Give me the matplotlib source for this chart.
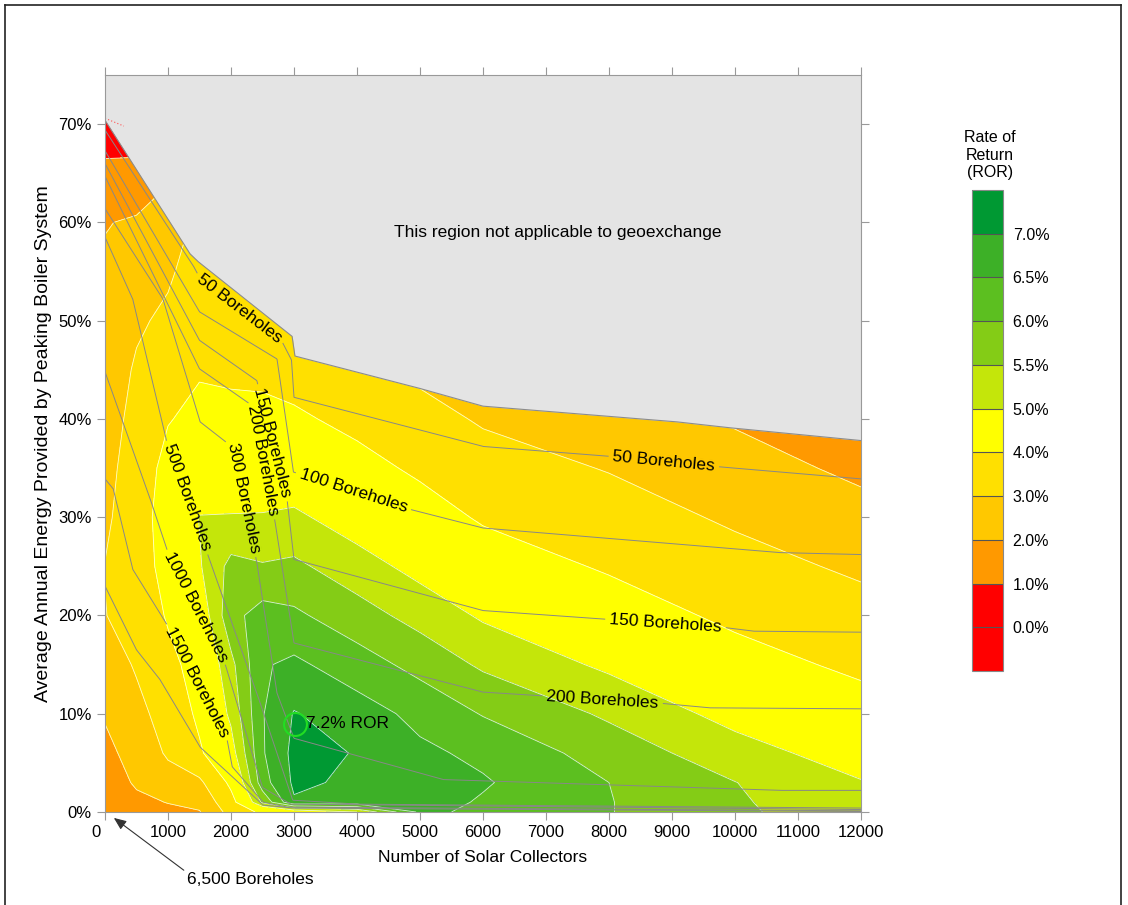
import numpy as np
import matplotlib
matplotlib.use("Agg")
import matplotlib.pyplot as plt
from matplotlib.colors import ListedColormap, BoundaryNorm
from matplotlib.cm import ScalarMappable
from matplotlib.lines import Line2D
import matplotlib.transforms as mtransforms

plt.rcParams['font.family'] = ['Liberation Sans', 'DejaVu Sans']

# ------------------------------------------------------------
# Data
# ------------------------------------------------------------
collectors = [0, 500, 1000, 1500, 2000, 2500, 3000, 4000, 5000, 6000, 8000, 10000, 12000]
boiler_pct = [0, 1, 3, 6, 10, 15, 20, 25, 30, 35, 40, 45, 50, 55, 60, 65, 70, 75]

# rate of return (%) - one row per boiler_pct value, one column per collectors value
ror = [
    [1.20, 1.45, 1.80, 1.95, 3.35, 4.20, 4.50, 5.00, 6.60, 6.40, 6.02, 5.57, 5.25],
    [1.29, 1.79, 2.03, 2.24, 3.70, 5.60, 6.95, 6.85, 6.70, 6.45, 6.02, 5.56, 5.15],
    [1.47, 2.12, 2.62, 2.82, 4.20, 6.30, 7.08, 6.92, 6.68, 6.55, 6.00, 5.51, 5.03],
    [1.74, 2.38, 3.12, 3.89, 4.75, 6.45, 7.13, 6.98, 6.60, 6.39, 5.78, 5.22, 4.74],
    [2.09, 2.73, 3.39, 4.17, 5.12, 6.47, 7.03, 6.73, 6.36, 5.97, 5.42, 4.82, 4.35],
    [2.50, 3.10, 3.73, 4.39, 5.36, 6.45, 6.60, 6.23, 5.84, 5.42, 4.90, 4.32, 3.83],
    [2.98, 3.30, 4.10, 4.62, 5.85, 6.20, 6.09, 5.71, 5.32, 4.93, 4.41, 3.83, 3.34],
    [3.02, 3.45, 4.40, 4.95, 5.65, 5.54, 5.60, 5.22, 4.83, 4.42, 3.91, 3.34, 2.84],
    [2.85, 3.50, 4.50, 5.02, 5.03, 5.04, 5.10, 4.73, 4.34, 3.91, 3.43, 2.86, 2.32],
    [2.71, 3.45, 4.30, 4.54, 4.61, 4.61, 4.61, 4.25, 3.87, 3.40, 2.95, 2.38, 1.80],
    [2.56, 3.30, 3.95, 4.24, 4.23, 4.18, 4.12, 3.80, 3.32, 2.90, 2.50, 1.90, 1.50],
    [2.41, 3.12, 3.57, 3.92, 3.85, 3.85, 3.70, 3.55, 2.80, 2.60, 2.30, 1.70, 1.30],
    [2.26, 2.85, 3.20, 3.70, 3.60, 3.65, 3.40, 3.30, 2.50, 2.40, 2.10, 1.50, 1.10],
    [2.15, 2.49, 2.85, 3.50, 3.40, 3.45, 3.20, 3.10, 2.30, 2.20, 1.90, 1.30, 0.90],
    [1.95, 2.13, 2.30, 3.30, 3.20, 3.30, 3.00, 2.90, 2.10, 2.00, 1.70, 1.10, 0.70],
    [1.17, 1.24, 1.90, 3.10, 3.00, 3.10, 2.80, 2.70, 1.90, 1.80, 1.50, 0.90, 0.50],
    [0.60, 0.50, 1.70, 2.90, 2.80, 2.90, 2.60, 2.50, 1.70, 1.60, 1.30, 0.70, 0.30],
    [0.30, 0.30, 1.50, 2.70, 2.60, 2.70, 2.40, 2.30, 1.50, 1.40, 1.10, 0.50, 0.10],
]

# upper edge of the applicable region
limit_x = [0, 1350, 1480, 2970, 3015, 5000, 6000, 9080, 9920, 12000]
limit_y = [70.4, 56.8, 56.0, 48.4, 46.4, 43.1, 41.3, 39.7, 39.1, 37.8]

# lines of constant borehole count
b50_x = [0, 1400, 1500, 2800, 2960, 3000, 6000, 8000, 9800, 12000]
b50_y = [69.4, 55.6, 54.4, 48.0, 46.0, 42.2, 37.2, 36.2, 35.1, 33.9]
b100_x = [0, 1500, 2730, 2990, 4840, 6000, 10700, 12000]
b100_y = [67.3, 50.9, 46.1, 34.6, 30.8, 28.9, 26.4, 26.2]
b150_x = [0, 1500, 2410, 2890, 3000, 6000, 7540, 9800, 10300, 12000]
b150_y = [66.0, 48.0, 43.9, 31.8, 25.7, 20.5, 19.8, 18.8, 18.4, 18.3]
b200_x = [0, 1500, 2350, 2700, 3000, 6000, 8760, 9600, 12000]
b200_y = [64.7, 45.1, 41.3, 29.5, 17.2, 12.2, 11.1, 10.6, 10.5]
b300_x = [0, 920, 1510, 2030, 2410, 2730, 3000, 5370, 10700, 12000]
b300_y = [61.4, 52.2, 39.7, 37.1, 25.4, 12.1, 7.5, 3.3, 2.2, 2.2]
b500_x = [0, 440, 980, 1620, 2410, 2980, 4000, 12000]
b500_y = [58.5, 52.2, 37.7, 26.4, 12.1, 1.2, 0.8, 0.4]
b1000_x = [0, 710, 1000, 1900, 2050, 2500, 2950, 12000]
b1000_y = [44.8, 32.0, 26.4, 15.2, 12.0, 2.5, 0.8, 0.25]
b1500_x = [0, 130, 440, 1000, 1870, 1940, 2020, 2510, 2890, 12000]
b1500_y = [33.9, 32.9, 24.7, 18.9, 8.1, 7.3, 4.6, 1.0, 0.5, 0.12]
b3000_x = [0, 500, 870, 1510, 2510, 2980, 12000]
b3000_y = [23.0, 16.5, 13.5, 6.6, 0.7, 0.4, 0.05]

borehole_lines = [
    ("50 Boreholes", b50_x, b50_y, [(2140, 51.2), (8870, 35.6)]),
    ("100 Boreholes", b100_x, b100_y, [(3940, 32.6)]),
    ("150 Boreholes", b150_x, b150_y, [(2650, 37.6), (8890, 19.2)]),
    ("200 Boreholes", b200_x, b200_y, [(2520, 35.8), (7890, 11.4)]),
    ("300 Boreholes", b300_x, b300_y, [(2190, 32.0)]),
    ("500 Boreholes", b500_x, b500_y, [(1300, 32.0)]),
    ("1000 Boreholes", b1000_x, b1000_y, [(1440, 20.8)]),
    ("1500 Boreholes", b1500_x, b1500_y, [(1460, 13.2)]),
    ("", b3000_x, b3000_y, []),
]

levels = [-1, 0, 1, 2, 3, 4, 5, 5.5, 6, 6.5, 7, 8]
level_colors = ['#ff0000', '#ff0000', '#ff9900', '#ffc800', '#ffe000', '#ffff00',
                '#c4e60a', '#84cc16', '#5cbf20', '#3db027', '#009933']
cbar_ticks = [0, 1, 2, 3, 4, 5, 5.5, 6, 6.5, 7]

peak_x, peak_y, peak_text = 3016, 9.0, "7.2% ROR"

# ------------------------------------------------------------
# Figure
# ------------------------------------------------------------
W, H = 1128, 905
fig = plt.figure(figsize=(W / 100, H / 100), dpi=100)
ax = fig.add_axes([105 / W, 1 - 812 / H, (861 - 105) / W, (812 - 75) / H])
ax.set_xlim(0, 12000)
ax.set_ylim(0, 75)
ax.set_facecolor('#e4e4e4')

X, Y = np.meshgrid(collectors, boiler_pct)
Z = np.array(ror)
cmap = ListedColormap(level_colors)
norm = BoundaryNorm(levels, cmap.N)
ax.contourf(X, Y, Z, levels=levels, cmap=cmap, norm=norm, zorder=1)
ax.contour(X, Y, Z, levels=levels[1:-1], colors='white', linewidths=0.6,
           alpha=0.8, zorder=2)

# not applicable region
ax.fill_between(limit_x, limit_y, 75, color='#e4e4e4', lw=0, zorder=3)
ax.plot(limit_x, limit_y, color='#8c8c8c', lw=0.8, zorder=3.5)
ax.plot([0, 300], [70.6, 69.8], color='#ff5050', lw=0.8, ls=(0, (1, 2)), zorder=3.6)

ax.text(7190, 59.0, "This region not applicable to geoexchange", ha='center',
        va='center', fontsize=12.5, zorder=5)

# borehole lines with inline labels
renderer = fig.canvas.get_renderer()
inv = ax.transData.inverted()
for text, bx, by, spots in borehole_lines:
    pts = ax.transData.transform(np.column_stack([bx, by]))
    d = np.hypot(np.diff(pts[:, 0]), np.diff(pts[:, 1]))
    s = np.concatenate([[0], np.cumsum(d)])
    ss = np.linspace(0, s[-1], int(s[-1]) + 2)
    px = np.interp(ss, s, pts[:, 0])
    py = np.interp(ss, s, pts[:, 1])
    keep = np.ones(len(ss), bool)
    for lx, ly in spots:
        c = ax.transData.transform((lx, ly))
        i = np.argmin(np.hypot(px - c[0], py - c[1]))
        j0, j1 = max(i - 20, 0), min(i + 20, len(ss) - 1)
        ang = np.degrees(np.arctan2(py[j1] - py[j0], px[j1] - px[j0]))
        if ang > 90:
            ang -= 180
        elif ang < -90:
            ang += 180
        xd, yd = inv.transform((px[i], py[i]))
        t = ax.text(xd, yd, text, ha='center', va='center', fontsize=12.5,
                    rotation_mode='anchor', zorder=5)
        w = t.get_window_extent(renderer).width
        t.set_rotation(ang)
        keep &= np.abs(ss - ss[i]) > w / 2 + 4
    px = np.where(keep, px, np.nan)
    back = inv.transform(np.column_stack([px, py]))
    ax.plot(back[:, 0], back[:, 1], color='#888888', lw=0.7, zorder=4)

# peak marker
ax.plot(peak_x, peak_y, 'o', ms=16.5, mfc='none', mec='#22dd22', mew=1.5, zorder=6)
ax.text(peak_x + 175, peak_y, peak_text, ha='left', va='center', fontsize=12.5, zorder=6)

ax.annotate("6,500 Boreholes", xy=(140, -0.6), xytext=(2300, -6.9),
            ha='center', va='center', fontsize=12.5, annotation_clip=False,
            arrowprops=dict(arrowstyle='-|>,head_length=0.6,head_width=0.25',
                            color='#333333', lw=0.8, relpos=(0, 1),
                            shrinkA=0, shrinkB=0))

# axes styling
ax.set_xticks(range(0, 12001, 1000))
ax.set_yticks(range(0, 71, 10))
ax.set_yticklabels([f"{v}%" for v in range(0, 71, 10)])
ax.tick_params(direction='out', length=6, width=0.8, color='#999999', top=True,
               right=True, labelsize=12)
for sp in ax.spines.values():
    sp.set_color('#999999')
    sp.set_zorder(7)
lbl0 = ax.get_xticklabels()[0]
lbl0.set_transform(lbl0.get_transform() + mtransforms.ScaledTranslation(-9 / 100, 0, fig.dpi_scale_trans))
ax.set_xlabel("Number of Solar Collectors", fontsize=12.5, labelpad=7)
ax.set_ylabel("Average Annual Energy Provided by Peaking Boiler System", fontsize=14, labelpad=4.5)

# colorbar
cax = fig.add_axes([972 / W, 1 - 671 / H, 31 / W, (671 - 190) / H])
cb = fig.colorbar(ScalarMappable(norm=norm, cmap=cmap), cax=cax, boundaries=levels,
                  spacing='uniform', ticks=cbar_ticks, drawedges=True)
cb.ax.set_yticklabels([f"{v:.1f}%" for v in cbar_ticks])
cb.ax.minorticks_off()
cb.ax.tick_params(which='both', length=0, width=0, labelsize=11.5, pad=7)
cb.outline.set_edgecolor('#888888')
cb.dividers.set_color('#555555')
cb.dividers.set_linewidth(0.8)
fig.text(990 / W, 1 - 155 / H, "Rate of\nReturn\n(ROR)", ha='center', va='center',
         fontsize=11.5, multialignment='center')

# outer frame
for xs_, ys_ in [([5 / W, 5 / W], [0, 1 - 5 / H]), ([5 / W, 1121 / W], [1 - 5 / H, 1 - 5 / H]),
                 ([1121 / W, 1121 / W], [0, 1 - 5 / H])]:
    fig.add_artist(Line2D(xs_, ys_, transform=fig.transFigure, color='#222222', lw=1.2))

fig.savefig("out.png", dpi=100)
